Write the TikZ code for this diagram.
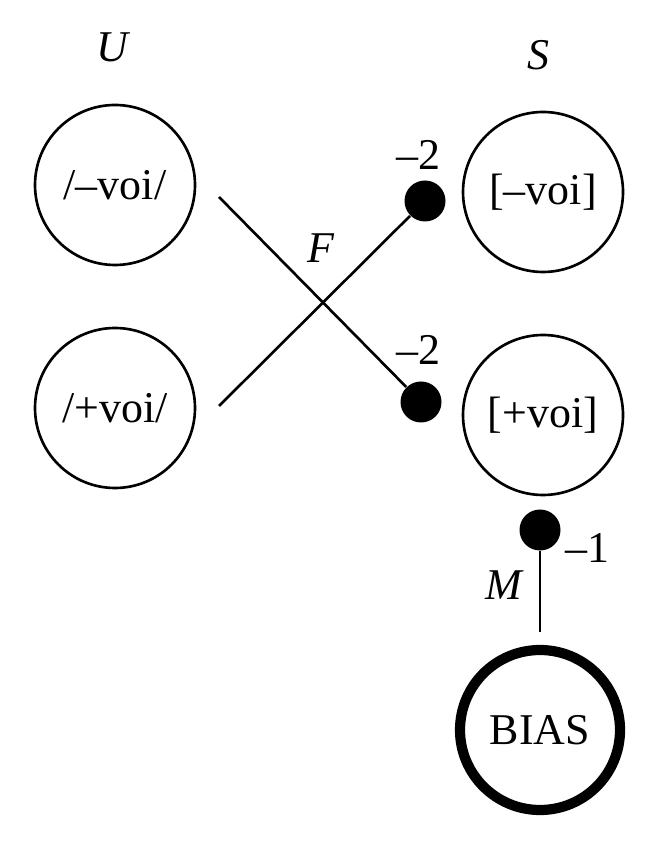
\documentclass[tikz,border=0pt]{standalone}
\usepackage{fontspec}
\setmainfont{Liberation Serif}
\usetikzlibrary{positioning}

\begin{document}
\begin{tikzpicture}[
    unit/.style={circle, draw, line width=0.75pt, minimum size=1.6cm, inner sep=0pt, font=\fontsize{12.5}{15}\selectfont},
    biasunit/.style={unit, line width=2.9pt},
    wdot/.style={circle, fill=black, minimum size=0.41cm, inner sep=0pt},
    line/.style={draw, line width=0.75pt},
    lbl/.style={inner sep=1pt, font=\fontsize{12.5}{15}\selectfont}
]
\useasboundingbox (0,0) rectangle (6.58,-8.5);

% Units
\node[unit] (uminus) at (1.15,-1.85) {/–voi/};
\node[unit] (uplus) at (1.15,-4.08) {/+voi/};
\node[unit] (sminus) at (5.43,-1.92) {[–voi]};
\node[unit] (splus) at (5.43,-4.15) {[+voi]};
\node[biasunit] (bias) at (5.40,-7.30) {BIAS};

% Layer labels
\node[lbl] (ulabel) at (1.14,-0.47) {\textit{U}};
\node[lbl] (slabel) at (5.38,-0.55) {\textit{S}};

% Weight dots
\node[wdot] (dminus) at (4.25,-2.01) {};
\node[wdot] (dplus) at (4.21,-4.02) {};
\node[wdot] (dbias) at (5.40,-5.30) {};

% Connection starts
\coordinate (fromminus) at (2.19,-1.97);
\coordinate (fromplus) at (2.19,-4.06);

% Connections
\draw[line] (fromminus) -- (dplus);
\draw[line] (fromplus) -- (dminus);
\draw[line, shorten >=0.13cm] (dbias) -- (bias);

% Weights
\node[lbl] (wminus) at (4.18,-1.55) {–2};
\node[lbl] (wplus) at (4.18,-3.50) {–2};
\node[lbl] (wbias) at (5.87,-5.48) {–1};
\node[lbl] (flabel) at (3.21,-2.48) {\textit{F}};
\node[lbl] (mlabel) at (5.05,-5.85) {\textit{M}};

\end{tikzpicture}
\end{document}
